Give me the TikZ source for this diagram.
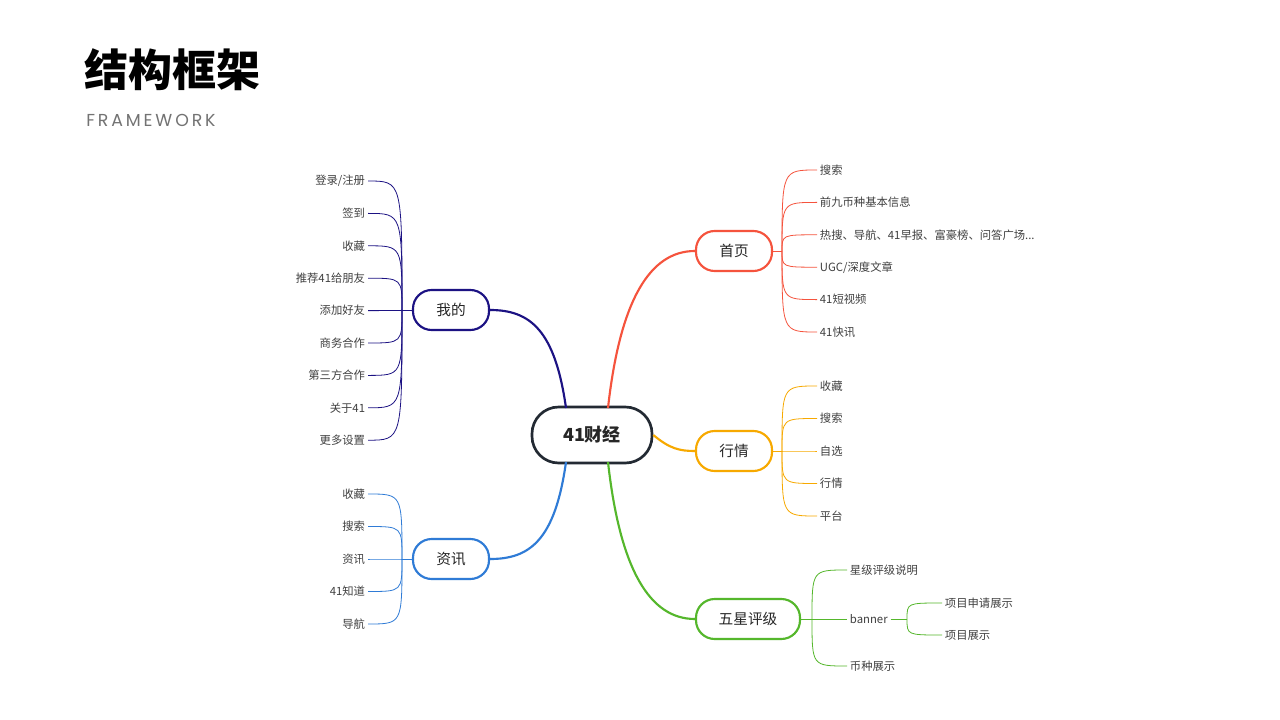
\documentclass[tikz,border=0pt]{standalone}
\usepackage{fontspec}
\setmainfont{Noto Sans CJK SC}
\newfontfamily\latinf{Poppins}
\def\tdots{.\kern0pt.\kern0pt.}
\begin{document}
\begin{tikzpicture}[x=0.75pt,y=-0.75pt,
  hubnode/.style={draw,line width=1.6pt,rounded corners=14pt,minimum height=30pt,minimum width=57pt,font=\fontsize{11}{13}\selectfont,text=black!85},
  leafl/.style={anchor=east,inner sep=2pt,font=\fontsize{8.5}{10}\selectfont,text=black!75},
  leafr/.style={anchor=west,inner sep=2pt,font=\fontsize{8.5}{10}\selectfont,text=black!75},
  br/.style={line width=1.6pt},
  tw/.style={line width=0.6pt}]
\definecolor{cnavy}{HTML}{1C1283}
\definecolor{cblue}{HTML}{2F7BD6}
\definecolor{cred}{HTML}{F5533D}
\definecolor{corange}{HTML}{F7A900}
\definecolor{cgreen}{HTML}{55B72C}
\definecolor{cdark}{HTML}{232A33}
\useasboundingbox (0,0) rectangle (1280,720);
\fill[white] (0,0) rectangle (1280,720);
\node[anchor=west,inner sep=0,font=\fontsize{33}{36}\selectfont\bfseries] (title) at (84,70) {结构框架};
\node[anchor=west,inner sep=0,font=\latinf\fontsize{13}{15}\selectfont,text=black!55] (sub) at (86,120) {F\,R\,A\,M\,E\,W\,O\,R\,K};

\node[hubnode,draw=cdark,line width=2pt,minimum width=90pt,minimum height=42pt,rounded corners=20pt,font=\fontsize{13.5}{16}\selectfont\bfseries] (c) at (592,435) {41财经};
\node[hubnode,draw=cnavy] (me) at (451,310) {我的};
\node[hubnode,draw=cblue] (news) at (451,559) {资讯};
\node[hubnode,draw=cred] (home) at (734,251) {首页};
\node[hubnode,draw=corange] (mkt) at (734,451) {行情};
\node[hubnode,draw=cgreen,minimum width=78pt] (star) at (748,619) {五星评级};

\draw[br,cnavy] (566,408) .. controls (555,330) and (530,310) .. (me.east);
\draw[br,cblue] (566,462) .. controls (555,540) and (530,559) .. (news.east);
\draw[br,cred] (608,408) .. controls (620,300) and (650,251) .. (home.west);
\draw[br,corange] (c.east) .. controls (670,449) and (680,451) .. (mkt.west);
\draw[br,cgreen] (608,462) .. controls (620,570) and (650,619) .. (star.west);

% 我的
\coordinate (hme) at (402,310);
\draw[tw,cnavy] (me.west) -- (hme);
\foreach \t [count=\i] in {登录/注册,签到,收藏,推荐41给朋友,添加好友,商务合作,第三方合作,关于41,更多设置}{
  \node[leafl] (m\i) at (368,{181+(\i-1)*32.4}) {\t};
  \draw[tw,cnavy] (hme) .. controls (402,{181+(\i-1)*32.4}) .. (m\i.east);
}
% 资讯
\coordinate (hnw) at (402,559);
\draw[tw,cblue] (news.west) -- (hnw);
\foreach \t [count=\i] in {收藏,搜索,资讯,41知道,导航}{
  \node[leafl] (n\i) at (368,{494+(\i-1)*32.5}) {\t};
  \draw[tw,cblue] (hnw) .. controls (402,{494+(\i-1)*32.5}) .. (n\i.east);
}
% 首页
\coordinate (hh) at (782,251);
\draw[tw,cred] (home.east) -- (hh);
\foreach \t [count=\i] in {搜索,前九币种基本信息,{热搜、导航、41早报、富豪榜、问答广场\tdots},UGC/深度文章,41短视频,41快讯}{
  \node[leafr] (h\i) at (817,{170+(\i-1)*32.4}) {\t};
  \draw[tw,cred] (hh) .. controls (782,{170+(\i-1)*32.4}) .. (h\i.west);
}
% 行情
\coordinate (hm) at (782,451);
\draw[tw,corange] (mkt.east) -- (hm);
\foreach \t [count=\i] in {收藏,搜索,自选,行情,平台}{
  \node[leafr] (k\i) at (817,{386+(\i-1)*32.5}) {\t};
  \draw[tw,corange] (hm) .. controls (782,{386+(\i-1)*32.5}) .. (k\i.west);
}
% 五星评级
\coordinate (hs) at (812,619);
\draw[tw,cgreen] (star.east) -- (hs);
\node[leafr] (s1) at (847,570) {星级评级说明};
\node[leafr] (s2) at (847,619) {banner};
\node[leafr] (s3) at (847,666) {币种展示};
\draw[tw,cgreen] (hs) .. controls (812,570) .. (s1.west);
\draw[tw,cgreen] (hs) -- (s2.west);
\draw[tw,cgreen] (hs) .. controls (812,666) .. (s3.west);
\coordinate (hb) at (907,619);
\draw[tw,cgreen] (s2.east) -- (hb);
\node[leafr] (b1) at (942,603) {项目申请展示};
\node[leafr] (b2) at (942,635) {项目展示};
\draw[tw,cgreen] (hb) .. controls (907,603) .. (b1.west);
\draw[tw,cgreen] (hb) .. controls (907,635) .. (b2.west);
\end{tikzpicture}
\end{document}
